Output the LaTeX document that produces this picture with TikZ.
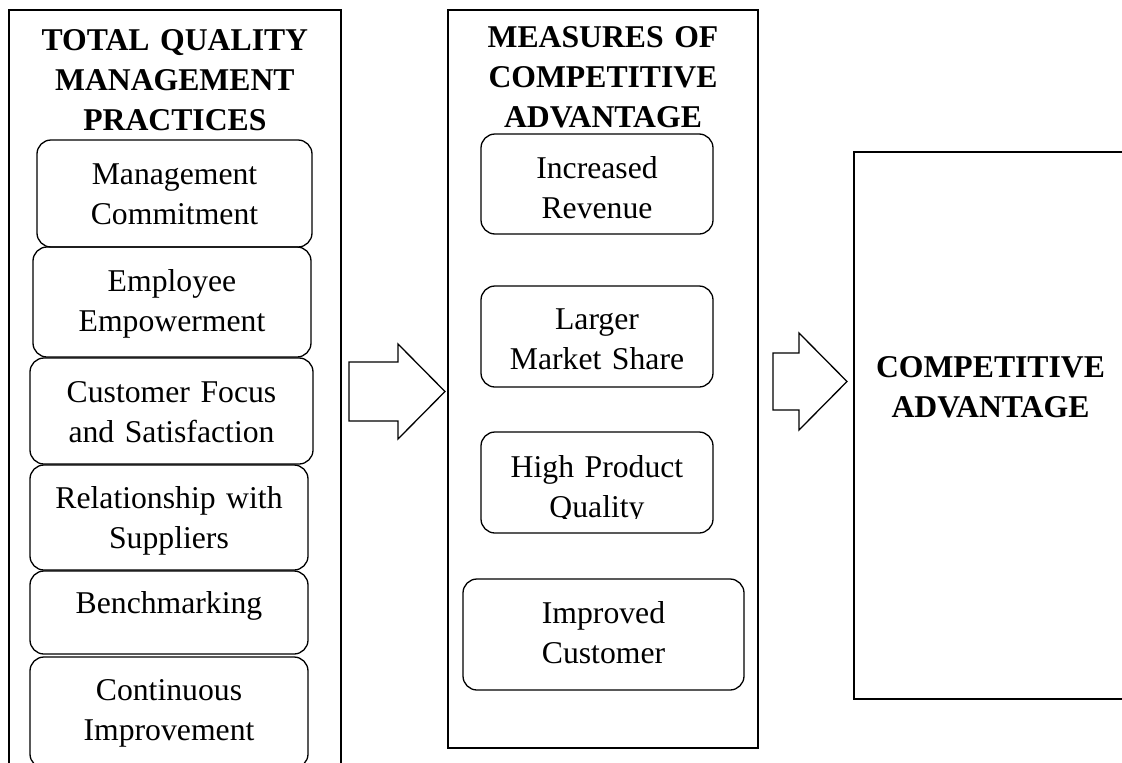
\documentclass[tikz,border=0pt]{standalone}
\usepackage{fontspec}
\setmainfont{Liberation Serif}
\begin{document}
\begin{tikzpicture}[x=1pt,y=-1pt,
  every node/.style={inner sep=0pt, outer sep=0pt},
  txt/.style={font=\fontsize{31.7}{40}\selectfont, align=center},
  frame/.style={draw, line width=1.6pt},
  item/.style n args={3}{draw, line width=1.3pt, rounded corners=14pt, txt,
    minimum width=#1, minimum height=#2, text width=#1-20pt,
    text height=21pt, text depth=#3},
  title/.style={txt, font=\fontsize{31.7}{40}\selectfont\bfseries, anchor=base},
  blockarrow/.style={draw, line width=1.3pt, fill=white, line join=miter},
]
\useasboundingbox (0,0) rectangle (1122,763);
\fill[white] (0,0) rectangle (1122,763);
\clip (0,0) rectangle (1122,763);

% outer frames
\node[frame, minimum width=332.3pt, minimum height=775pt] (tqm) at (174.85,397.5) {};
\node[frame, minimum width=310pt, minimum height=738pt] (mca) at (603,379) {};
\node[frame, minimum width=273pt, minimum height=547pt] (ca) at (990.5,425.5) {};

% headings
\node[title, text width=320pt] (tqmtitle) at (174.85,50) {TOTAL QUALITY\\MANAGEMENT\\PRACTICES};
\node[title, text width=300pt] (mcatitle) at (603,47.5) {MEASURES OF\\COMPETITIVE\\ADVANTAGE};
\node[title, text width=260pt] (catitle) at (990.5,377) {COMPETITIVE\\ADVANTAGE};

% practices
\node[item={275pt}{107pt}{40pt}] (mc) at (174.5,193.5) {Management\\Commitment};
\node[item={278pt}{110pt}{43pt}] (ee) at (172,302) {Employee\\Empowerment};
\node[item={283pt}{106pt}{39pt}] (cf) at (171.5,411) {Customer Focus\\and Satisfaction};
\node[item={278pt}{105pt}{40pt}] (rs) at (169,517.5) {Relationship with\\Suppliers};
\node[item={278pt}{83pt}{20pt}] (bm) at (169,612.5) {Benchmarking};
\node[item={278pt}{111pt}{46pt}] (ci) at (169,712.5) {Continuous\\Improvement};

% measures
\node[item={232pt}{100pt}{33pt}] (ir) at (597,184) {Increased\\Revenue};
\node[item={232pt}{101pt}{36pt}] (lm) at (597,336.5) {Larger\\Market Share};
\node[item={232pt}{101pt}{32pt}] (hpq) at (597,482.5) {};
\begin{scope}
  \clip (hpq.north west) rectangle (713,518.3);
  \node[txt, anchor=base, text width=212pt] (hpqtext) at (597,477) {High Product\\Quality};
\end{scope}
\node[item={281pt}{111pt}{44pt}] (ic) at (603.5,634.5) {Improved\\Customer};

% block arrows
\draw[blockarrow] (349,362) -- (398,362) -- (398,344) -- (445,391.5) -- (398,439)
  -- (398,421) -- (349,421) -- cycle;
\draw[blockarrow] (773,353) -- (799,353) -- (799,333) -- (847,381.5) -- (799,430)
  -- (799,410) -- (773,410) -- cycle;
\end{tikzpicture}
\end{document}
